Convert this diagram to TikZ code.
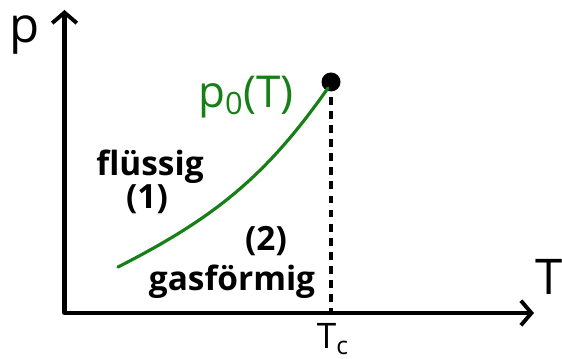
\documentclass[tikz,border=0pt]{standalone}
\usepackage{fontspec}
\setsansfont{Open Sans}
\usepackage{xcolor}
\usepackage{tikz}
\usetikzlibrary{arrows.meta, positioning, calc}

\definecolor{curvegreen}{RGB}{22,128,22}

\begin{document}
\begin{tikzpicture}[font=\sffamily,
    axis/.style={line width=2.4pt, line join=round,
      {Straight Barb[length=6pt, width=14pt, line width=2.2pt]}-{Straight Barb[length=6pt, width=14pt, line width=2.2pt]}},
    handtext/.style={font=\sffamily\bfseries\fontsize{19}{22}\selectfont},
    bigtext/.style={font=\sffamily\fontsize{28}{30}\selectfont}]
    \useasboundingbox (0,0) rectangle (11.24,7.16);

    % axes
    \coordinate (O) at (1.29,0.9);
    \coordinate (ytop) at (1.29,6.96);
    \coordinate (xend) at (10.68,0.9);
    \draw[axis] (ytop) -- (O) -- (xend);
    \node[bigtext] (plabel) at (0.5,6.45) {p};
    \node[bigtext] (Tlabel) at (10.98,1.62) {T};

    % critical point and T_c
    \node[circle, fill, inner sep=0pt, minimum size=0.38cm] (crit) at (6.62,5.52) {};
    \coordinate (Tc) at (6.62,0.9);
    \draw[line width=1.8pt, dash pattern=on 4.5pt off 3.5pt] ([yshift=-3pt]crit.south) -- (Tc);
    \node[bigtext, font=\sffamily\fontsize{20}{22}\selectfont, inner sep=0pt] (Tclabel) at (6.66,0.38) {T\textsubscript{c}};

    % vapour pressure curve
    \coordinate (cstart) at (2.36,1.82);
    \coordinate (cend) at (6.56,5.4);
    \draw[curvegreen, line width=1.8pt, line cap=round] (cstart) to[out=27, in=235] (cend);
    \node[bigtext, text=curvegreen, font=\sffamily\fontsize{25}{28}\selectfont] (p0) at (4.92,5.22) {p\textsubscript{0}(T)};

    % phase labels
    \node[handtext] (fl) at (3.0,3.82) {flüssig};
    \node[handtext] (one) at (2.94,3.18) {(1)};
    \node[handtext] (two) at (5.32,2.34) {(2)};
    \node[handtext] (gas) at (4.64,1.52) {gasförmig};
\end{tikzpicture}
\end{document}
